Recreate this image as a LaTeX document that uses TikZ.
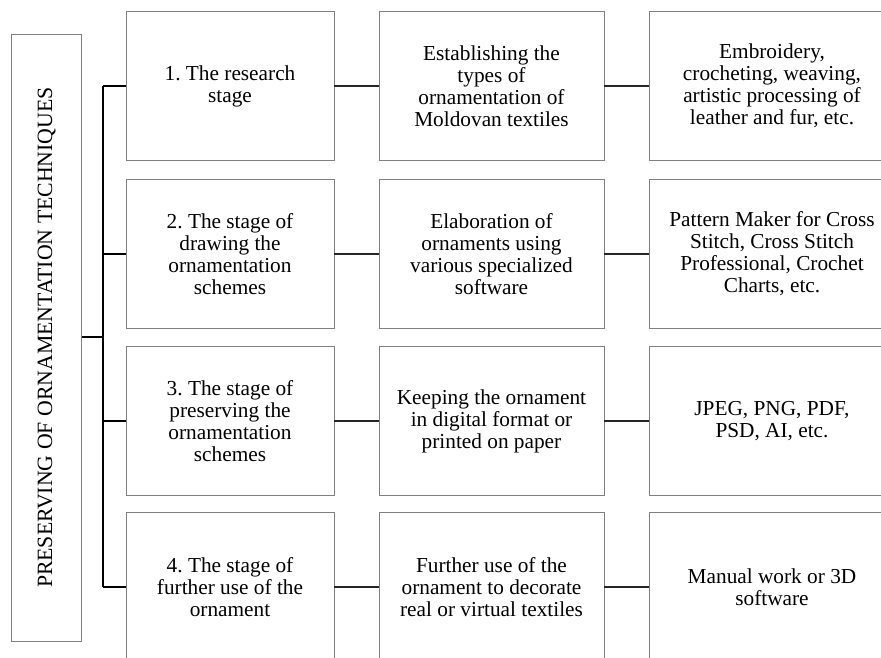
\documentclass[tikz,border=0pt]{standalone}
\usepackage{fontspec}
\setmainfont{Liberation Serif}
\begin{document}
\frenchspacing
\begin{tikzpicture}[x=1pt,y=-1pt,
  box/.style={draw=black!50,line width=0.9pt,align=center,inner sep=0pt,
    font=\rmfamily\frenchspacing\fontsize{21.3}{22}\selectfont},
  c1/.style={box,minimum width=208pt,minimum height=149pt},
  c2/.style={box,minimum width=225pt,minimum height=149pt},
  c3/.style={box,minimum width=246pt,minimum height=149pt},
  link/.style={draw=black!85,line width=2pt},
  bus/.style={draw=black,line width=1.8pt}]
\useasboundingbox (0,0) rectangle (881,657);
\clip (0,0) rectangle (881,657);
\fill[white] (0,0) rectangle (881,657);
% title box
\node[box,minimum width=70pt,minimum height=607pt] (t) at (46.7,337.5) {};
\node[font=\rmfamily\fontsize{21.8}{22}\selectfont,rotate=90] (tt) at (t.center) {PRESERVING OF ORNAMENTATION TECHNIQUES};
% column 1
\node[c1] (a1) at (230,86) {1. The research\\stage};
\node[c1] (a2) at (230,254) {2. The stage of\\drawing the\\ornamentation\\schemes};
\node[c1] (a3) at (230,421) {3. The stage of\\preserving the\\ornamentation\\schemes};
\node[c1] (a4) at (230,587) {4. The stage of\\further use of the\\ornament};
% column 2
\node[c2] (b1) at (491.5,86) {Establishing the\\types of\\ornamentation of\\Moldovan textiles};
\node[c2] (b2) at (491.5,254) {Elaboration of\\ornaments using\\various specialized\\software};
\node[c2] (b3) at (491.5,421) {Keeping the ornament\\in digital format or\\printed on paper};
\node[c2] (b4) at (491.5,587) {Further use of the\\ornament to decorate\\real or virtual textiles};
% column 3
\node[c3] (d1) at (772,86) {Embroidery,\\crocheting, weaving,\\artistic processing of\\leather and fur, etc.};
\node[c3] (d2) at (772,254) {Pattern Maker for Cross\\Stitch, Cross Stitch\\Professional, Crochet\\Charts, etc.};
\node[c3] (d3) at (772,421) {JPEG, PNG, PDF,\\PSD, AI, etc.};
\node[c3] (d4) at (772,587) {Manual work or 3D\\software};
% bus
\coordinate (bt) at (103,86);
\coordinate (bb) at (103,587);
\coordinate (bm) at (103,337);
\draw[bus] (bt) -- (bb);
\draw[bus] (t.east |- bm) -- (bm);
\foreach \i in {1,2,3,4}{
  \draw[bus] (a\i.west -| bt) -- (a\i.west);
  \draw[link] (a\i.east) -- (b\i.west);
  \draw[link] (b\i.east) -- (d\i.west);
}
\end{tikzpicture}
\end{document}
